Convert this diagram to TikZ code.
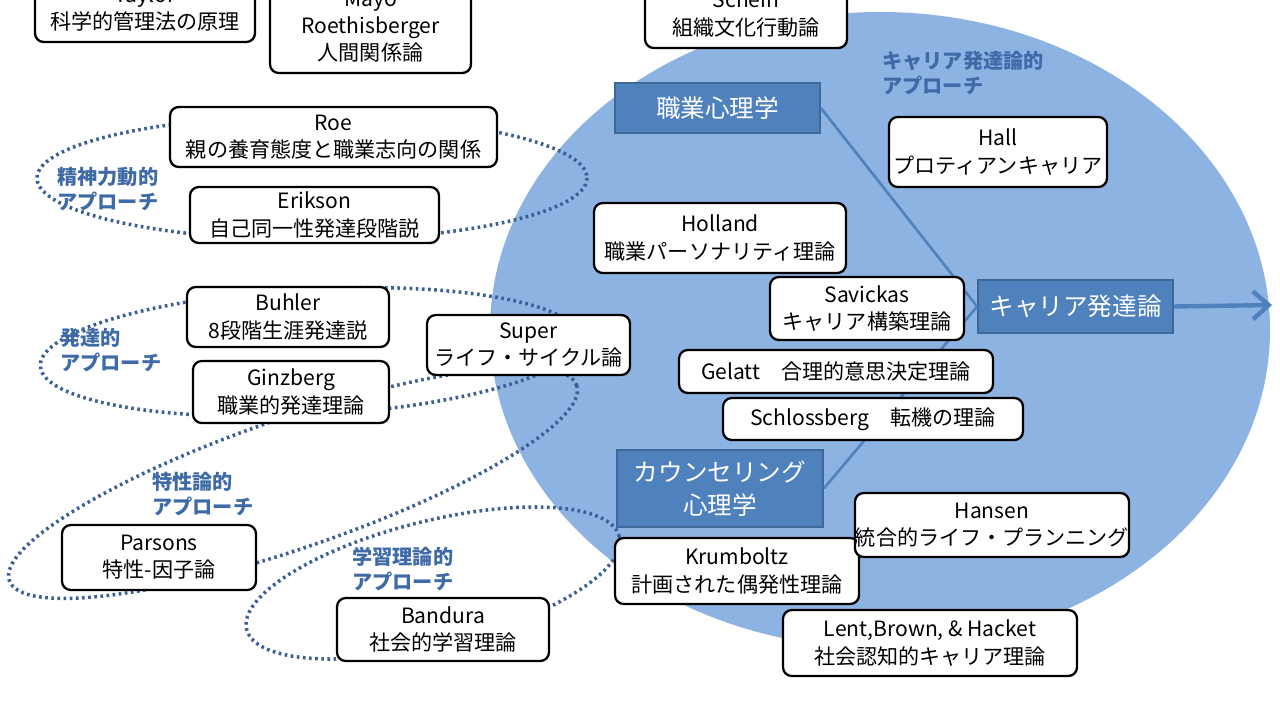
\documentclass[tikz,border=0pt]{standalone}
\usepackage{fontspec}
\setmainfont{Noto Sans CJK JP}
\usetikzlibrary{arrows.meta}
\begin{document}
\begin{tikzpicture}[x=0.02cm,y=-0.02cm,
 box/.style={draw=black,line width=1.3pt,rounded corners=5pt,fill=white,align=center,inner sep=0pt,font=\fontsize{12}{15.5}\selectfont},
 hbox/.style={draw=hb!80!black,fill=hb,line width=1pt,text=white,align=center,inner sep=0pt,font=\fontsize{14}{19}\selectfont},
 lab/.style={text=lb,font=\fontsize{11.5}{14}\selectfont\bfseries,align=left,anchor=west,inner sep=0pt},
 dot/.style={draw=db,line width=2pt,dash pattern=on 1.5pt off 2pt},
 conn/.style={draw=hb,line width=1.5pt}]
\definecolor{hb}{HTML}{4F81BD}
\definecolor{ell}{HTML}{8DB3E2}
\definecolor{lb}{HTML}{3E6AA8}
\definecolor{db}{HTML}{3A5F96}
\newcommand\Bx[6]{\node[box,minimum width={(#4-#2)*0.02cm},minimum height={(#5-#3)*0.02cm}] (#1) at ({(#2+#4)/2},{(#3+#5)/2}) {#6};}
\newcommand\Hx[6]{\node[hbox,minimum width={(#4-#2)*0.02cm},minimum height={(#5-#3)*0.02cm}] (#1) at ({(#2+#4)/2},{(#3+#5)/2}) {#6};}
\useasboundingbox (0,0) rectangle (1280,720);
\fill[white] (0,0) rectangle (1280,720);
\fill[ell] (880,330) ellipse [x radius=390,y radius=318];
% dotted ellipses
\draw[dot] (312,178) ellipse [x radius=275,y radius=62];
\draw[dot] (310,352) [rotate around={3:(310,352)}] ellipse [x radius=270,y radius=63];
\draw[dot] (293,483) [rotate around={19:(293,483)}] ellipse [x radius=300,y radius=65];
\draw[dot] (433,583) [rotate around={14:(433,583)}] ellipse [x radius=192,y radius=62];
% boxes
\Bx{taylor}{35}{-25}{255}{42}{Taylor\\科学的管理法の原理}
\Bx{mayo}{270}{-20}{471}{73}{Mayo\\Roethisberger\\人間関係論}
\Bx{schein}{645}{-20}{847}{48}{Schein\\組織文化行動論}
\Bx{roe}{170}{107}{497}{167}{Roe\\親の養育態度と職業志向の関係}
\Bx{erik}{190}{187}{439}{243}{Erikson\\自己同一性発達段階説}
\Bx{buhler}{187}{287}{389}{347}{Buhler\\8段階生涯発達説}
\Bx{super}{427}{315}{630}{375}{Super\\ライフ・サイクル論}
\Bx{ginz}{193}{361}{389}{423}{Ginzberg\\職業的発達理論}
\Bx{pars}{62}{525}{256}{590}{Parsons\\特性-因子論}
\Bx{band}{337}{598}{549}{661}{Bandura\\社会的学習理論}
\Bx{krum}{615}{538}{859}{604}{Krumboltz\\計画された偶発性理論}
\Bx{lent}{783}{610}{1077}{676}{Lent,Brown, \& Hacket\\社会認知的キャリア理論}
\Bx{hansen}{868}{493}{1116}{557}{Hansen\\統合的ライフ・プランニング}
\Bx{hall}{889}{117}{1107}{187}{Hall\\プロティアンキャリア}
% header boxes and connectors
\Hx{shoku}{615}{83}{820}{133}{職業心理学}
\Hx{career}{978}{280}{1173}{333}{キャリア発達論}
\Hx{couns}{617}{450}{823}{527}{カウンセリング\\心理学}
\coordinate (arr) at (1272,305);
\draw[conn] (shoku.east) -- (career.west);
\draw[conn] (couns.east) -- (career.west);
\draw[conn,line width=2.5pt,-{Straight Barb[length=9pt,width=16pt]}] (career.east) -- (arr);
\Bx{holl}{594}{203}{846}{273}{Holland\\職業パーソナリティ理論}
\Bx{sav}{770}{277}{964}{340}{Savickas\\キャリア構築理論}
\Bx{gel}{679}{350}{993}{393}{Gelatt\quad 合理的意思決定理論}
\Bx{sch}{723}{398}{1023}{440}{Schlossberg\quad 転機の理論}
% labels
\node[lab] (l1) at (882,73) {キャリア発達論的\\アプローチ};
\node[lab] (l2) at (57,189) {精神力動的\\アプローチ};
\node[lab] (l3) at (60,350) {発達的\\アプローチ};
\node[lab] (l4) at (152,494) {特性論的\\アプローチ};
\node[lab] (l5) at (352,569) {学習理論的\\アプローチ};
\end{tikzpicture}
\end{document}
